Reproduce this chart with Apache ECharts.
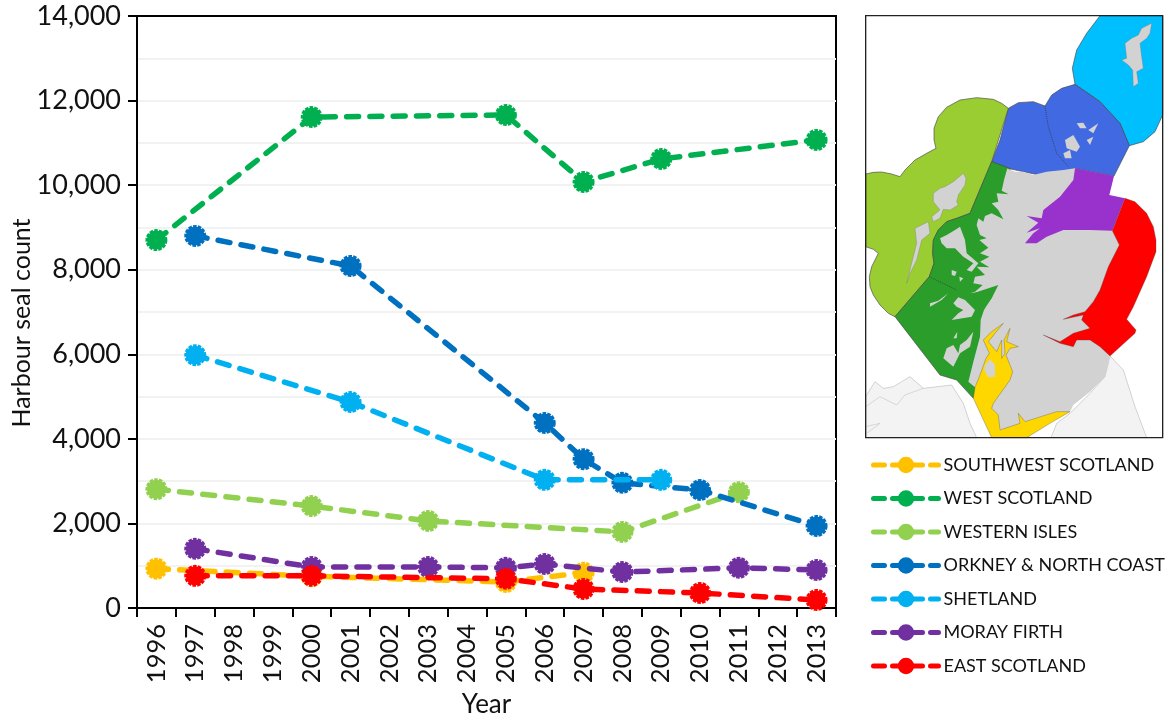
<!DOCTYPE html>
<html>
<head>
<meta charset="utf-8">
<script src="https://cdn.jsdelivr.net/npm/echarts@6/dist/echarts.min.js"></script>
<style>html,body{margin:0;padding:0;background:#fff}#c{width:1172px;height:720px}</style>
</head>
<body>
<div id="c"></div>
<script>
const years = ['1996','1997','1998','1999','2000','2001','2002','2003','2004','2005','2006','2007','2008','2009','2010','2011','2012','2013'];
const _ = null;
const southwestScotland = [930,_,_,_,750,_,_,_,_,615,_,835,_,_,_,_,_,_];
const westScotland      = [8700,_,_,_,11610,_,_,_,_,11660,_,10075,_,10620,_,_,_,11070];
const westernIsles      = [2810,_,_,_,2410,_,_,2060,_,_,_,_,1800,_,_,2740,_,_];
const orkneyNorthCoast  = [_,8800,_,_,_,8090,_,_,_,_,4375,3520,2960,_,2790,_,_,1940];
const shetland          = [_,5980,_,_,_,4870,_,_,_,_,3030,_,_,3030,_,_,_,_];
const morayFirth        = [_,1400,_,_,970,_,_,970,_,950,1040,_,850,_,_,950,_,900];
const eastScotland      = [_,760,_,_,760,_,_,_,_,690,_,450,_,_,355,_,_,190];
const seriesNames = ['SOUTHWEST SCOTLAND','WEST SCOTLAND','WESTERN ISLES','ORKNEY & NORTH COAST','SHETLAND','MORAY FIRTH','EAST SCOTLAND'];
const seriesValues = [southwestScotland,westScotland,westernIsles,orkneyNorthCoast,shetland,morayFirth,eastScotland];
const seriesColors = ['#FFC000','#00B050','#92D050','#0070C0','#00B0F0','#7030A0','#FF0000'];

const FONT = 'Lato';
const chart = echarts.init(document.getElementById('c'), null, {renderer:'canvas'});

// inset map, coordinates in a 3x space of the inset
function poly(points, fill, stroke, lw){
  return {type:'polygon', shape:{points:points}, style:{fill:fill, stroke:stroke||null, lineWidth:lw||0, lineJoin:'round'}, silent:true};
}
const north = pts => pts.map(p=>[p[0]+210,p[1]+480]);
const south = pts => pts.map(p=>[p[0]+210,p[1]+870]);
const EDGE='#4a4a4a', GREY='#D2D2D2', LAND='#F3F3F3', GREEN='#2A9D2A';
const westCoast = north([[232,25],[222,60],[215,92],[236,103],[200,100],[205,125],[185,130],[205,150],[220,178],[185,160],[165,168],[160,185],[145,175],[140,195],[150,225],[170,235],[148,240],[175,263],[150,280],[178,290],[150,305],[178,322],[140,320],[165,345],[135,350],[130,370],[158,375],[135,395]]);
const mapParts = [
  poly([[17,1190],[45,1145],[70,1165],[100,1160],[150,1130],[190,1165],[275,1155],[310,1210],[330,1270],[350,1313],[17,1313]],LAND,'#aaa',1.5),
  poly([[573,1313],[590,1270],[630,1240],[690,1180],[735,1130],[750,1068],[790,1110],[825,1220],[860,1313]],LAND,'#aaa',1.5),
  {type:'polyline',shape:{points:[[17,1220],[60,1190],[110,1215],[135,1185],[190,1165]]},style:{stroke:'#bbb',lineWidth:1.5,fill:null},silent:true},
  {type:'polyline',shape:{points:[[17,1280],[60,1270],[20,1300]]},style:{stroke:'#bbb',lineWidth:1.5,fill:null},silent:true},
  // Shetland
  poly([[720,47],[908,47],[908,345],[885,395],[850,425],[808,437],[780,370],[720,305],[645,253],[637,205],[650,150],[680,100]],'#00BFFF',EDGE,2),
  // Orkney and north coast
  poly([[445,325],[475,308],[520,305],[555,318],[575,285],[605,265],[645,253],[720,305],[780,370],[808,437],[762,528],[645,505],[560,530],[443,505],[395,485],[420,420]],'#4169E1',EDGE,2),
  // Western Isles
  poly([[17,522],[40,517],[65,516],[95,522],[120,530],[135,510],[165,480],[200,460],[228,445],[222,420],[222,385],[235,350],[260,322],[300,300],[350,293],[400,298],[425,310],[445,325],[395,485],[330,640],[290,655],[260,665],[235,690],[220,720],[218,760],[222,790],[208,830],[105,950],[85,940],[60,915],[40,885],[30,860],[28,830],[35,800],[55,760],[40,748],[17,740]],'#9ACD32',EDGE,2),
  // West Scotland
  poly([[395,485],[450,505],[460,700],[420,1000],[340,1195],[290,1140],[240,1125],[105,950],[208,830],[222,790],[218,760],[220,720],[235,690],[260,665],[290,655],[330,640]],GREEN,EDGE,2),
  // mainland
  poly([].concat(
    [[440,505],[465,515],[490,515],[520,525],[560,515],[610,510],[645,505],[757,692],[778,735],[750,1068],[735,1130],[690,1175],[640,1215],[630,1235],[590,1240],[520,1270],[420,1290],[345,1162]],
    south([[115,275],[130,215]]),
    [[360,1010],[362,960],[375,920],[405,870]],
    [[330,880],[345,875]],
    westCoast.slice().reverse()
  ),GREY),
  // west coast sea lochs
  poly([[340,880],[415,855],[395,895],[365,940],[345,905]],GREEN),
  // Skye, Mull, Jura and other islands
  poly(north([[30,235],[50,225],[75,210],[90,200],[105,240],[110,280],[145,310],[125,335],[110,330],[130,310],[100,290],[75,265],[50,265],[35,250]]),GREY),
  poly(north([[65,330],[80,335],[75,348],[65,345]]),GREY),
  poly(north([[88,350],[100,355],[90,365]]),GREY),
  poly(south([[0,40],[25,32],[55,10],[35,30],[0,50]]),GREY),
  poly(south([[70,40],[85,22],[105,30],[135,60],[125,80],[65,90],[85,70],[100,60],[80,50]]),GREY),
  poly(south([[40,205],[50,175],[70,165],[85,190],[90,165],[110,150],[130,125],[120,170],[90,190],[70,230]]),GREY),
  poly(south([[70,145],[82,125],[80,145]]),GREY),
  // Moray Firth
  poly([[645,505],[762,528],[748,585],[795,595],[757,692],[690,690],[610,690],[560,710],[530,730],[495,730],[520,700],[540,685],[500,698],[535,668],[500,648],[545,655],[550,630],[600,590],[640,540]],'#9932CC'),
  // East Scotland
  poly([[795,595],[825,605],[860,640],[880,680],[888,720],[888,755],[860,830],[820,920],[800,958],[828,990],[825,1000],[750,1068],[720,1040],[690,1020],[650,1020],[640,1040],[600,1030],[550,1005],[600,1025],[640,1000],[690,985],[665,960],[670,945],[610,958],[640,945],[675,935],[700,905],[720,870],[745,800],[778,735],[757,692]],'#FF0000',EDGE,1),
  // Southwest Scotland
  poly(south([[130,325],[135,292],[150,255],[168,205],[178,190],[160,150],[185,125],[220,100],[195,130],[175,155],[200,185],[215,150],[215,205],[225,190],[222,150],[240,115],[230,155],[265,170],[240,175],[228,195],[248,245],[240,270],[190,340],[185,355],[205,375],[210,420],[270,400],[265,370],[285,395],[380,365],[420,365],[360,400],[290,443],[185,443]]),'#FFD700',EDGE,1),
  poly(south([[165,225],[180,208],[195,225],[195,260],[175,262],[163,240]]),GREY),
  // island chains
  poly(north([[10,100],[30,85],[45,80],[70,65],[100,40],[108,55],[105,75],[85,105],[80,125],[85,135],[60,150],[40,148],[30,175],[10,185],[5,170],[30,150],[10,125]]),GREY,'#777',1),
  poly([[165,685],[205,665],[210,700],[185,720],[170,780],[150,820],[140,850],[170,730]],GREY,'#777',1),
  poly([[785,180],[800,175],[795,130],[815,115],[835,105],[845,85],[875,70],[870,100],[860,115],[840,130],[845,170],[850,205],[830,215],[835,250],[820,260],[818,210],[805,195]],GREY,'#777',1),
  poly([[615,420],[640,405],[660,440],[650,455],[620,445]],GREY),
  poly([[610,460],[630,450],[635,475],[615,475]],GREY),
  poly([[650,370],[670,368],[680,385],[660,385]],GREY),
  poly([[685,390],[715,370],[700,400]],GREY),
  poly([[680,420],[700,410],[690,435]],GREY),
  // internal boundaries
  {type:'polyline',shape:{points:[[555,318],[565,380],[590,460],[625,500]]},style:{stroke:'#333',lineWidth:2,lineDash:[3,3],fill:null},silent:true},
  {type:'polyline',shape:{points:[[208,830],[290,870]]},style:{stroke:'#333',lineWidth:2,lineDash:[3,3],fill:null},silent:true},
  // frame
  {type:'rect',shape:{x:17,y:47,width:891,height:1266},style:{fill:null,stroke:'#222',lineWidth:4},silent:true}
];

chart.setOption({
  animation:false,
  backgroundColor:'#fff',
  textStyle:{fontFamily:FONT},
  grid:{left:137,right:336,top:16,bottom:112,show:true,borderColor:'#000',borderWidth:2,backgroundColor:'transparent',outerBoundsMode:'none',containLabel:false},
  legend:{
    orient:'vertical',left:866,top:451,itemWidth:65,itemHeight:18,itemGap:15.5,
    textStyle:{fontFamily:FONT,fontSize:18,color:'#111',padding:[0,0,0,0]},
    lineStyle:{width:5,type:[11,8],cap:'round'},
    data:seriesNames
  },
  xAxis:{
    type:'category',data:years,boundaryGap:true,
    name:'Year',nameLocation:'middle',nameGap:97,nameMoveOverlap:false,
    nameTextStyle:{fontFamily:FONT,fontSize:26,color:'#111',verticalAlign:'middle'},
    axisLine:{lineStyle:{color:'#000',width:2}},
    axisTick:{show:true,alignWithLabel:false,length:9,lineStyle:{color:'#000',width:2}},
    axisLabel:{rotate:90,interval:0,fontFamily:FONT,fontSize:25.5,color:'#111',margin:16},
    splitLine:{show:false}
  },
  yAxis:{
    type:'value',min:0,max:14000,interval:2000,
    name:'Harbour seal count',nameLocation:'middle',nameGap:115,nameMoveOverlap:false,
    nameTextStyle:{fontFamily:FONT,fontSize:25,color:'#111',verticalAlign:'middle',padding:[0,22,0,0]},
    axisLine:{show:true,lineStyle:{color:'#000',width:2}},
    axisTick:{show:true,length:9,lineStyle:{color:'#000',width:2}},
    axisLabel:{fontFamily:FONT,fontSize:27,color:'#111',margin:16,
      formatter:v=>v.toLocaleString('en-US')},
    splitLine:{show:true,showMinLine:false,showMaxLine:false,lineStyle:{color:'#F2F2F2',width:2}},
    minorTick:{show:false,splitNumber:2},
    minorSplitLine:{show:true,lineStyle:{color:'#F2F2F2',width:2}}
  },
  series:seriesNames.map((name,i)=>({
    name:name,type:'line',data:seriesValues[i],connectNulls:true,
    symbol:'circle',symbolSize:19,z:2+i,
    lineStyle:{color:seriesColors[i],width:5.5,type:[12,11.3],cap:'round'},
    itemStyle:{color:seriesColors[i],borderColor:seriesColors[i],borderWidth:3,borderType:[3.5,1.2]}
  })),
  graphic:[{type:'group',x:860,y:0,scaleX:1/3,scaleY:1/3,silent:true,children:mapParts}]
});
</script>
</body>
</html>
